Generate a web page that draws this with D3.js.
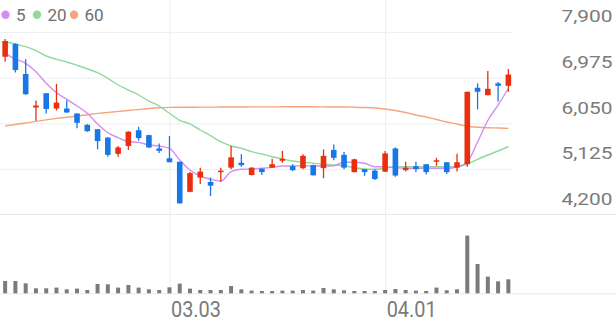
<!DOCTYPE html>
<html><head><meta charset="utf-8">
<script src="https://cdn.jsdelivr.net/npm/d3@7/dist/d3.min.js"></script>
<style>html,body{margin:0;padding:0;background:#fff;overflow:hidden}svg{display:block;font-family:Roboto,"Noto Sans",sans-serif}</style>
</head><body><svg id="c" width="616" height="321"></svg>
<script>
const dates = ["02.04","02.05","02.08","02.09","02.10","02.15","02.16","02.17","02.18","02.19","02.22","02.23","02.24","02.25","02.26","03.02",
"03.03","03.04","03.05","03.08","03.09","03.10","03.11","03.12","03.15","03.16","03.17","03.18","03.19","03.22","03.23","03.24","03.25","03.26","03.29","03.30","03.31",
"04.01","04.02","04.05","04.06","04.07","04.08","04.09","04.12","04.13","04.14","04.15","04.16","04.19"];
const open  = [7400,7660,7050,6370,6660,6350,6350,6250,6020,5930,5760,5430,5590,5910,5810,5540,5340,5270,4660,4950,4860,5060,5150,5250,5000,5130,5150,5290,5180,5140,5200,5140,5510,5410,5060,5120,5090,5070,5540,5100,5180,5220,5270,5260,5150,5220,6770,6620,6860,6810];
const high  = [7760,7670,7350,6510,6660,6850,6520,6250,6030,5930,5770,5590,5890,5980,5820,5640,5790,5270,5060,5150,4950,5150,5590,5420,5160,5130,5330,5490,5220,5420,5210,5520,5620,5470,5330,5120,5120,5490,5560,5270,5270,5220,5350,5260,5430,6690,6860,7110,6890,7150];
const low   = [7300,7080,6630,6100,6250,6310,6260,5950,5880,5520,5370,5370,5510,5700,5550,5450,5260,4425,4650,4820,4575,4865,5120,5170,4995,5000,5150,5250,5080,5120,4990,4935,5300,5120,5050,4985,4900,5060,4965,5070,5060,5010,5190,5020,5070,5170,6330,6620,6490,6690];
const close = [7720,7130,6640,6410,6340,6470,6270,6060,5890,5690,5410,5560,5880,5750,5560,5490,5260,4425,5040,5070,4785,5090,5360,5200,5150,5060,5220,5330,5100,5390,4995,5390,5350,5150,5320,5060,4920,5440,4990,5150,5120,5060,5300,5060,5260,6690,6690,6750,6810,7040];
const volume = [123000,123000,100000,50000,50000,57000,40000,47000,33000,93000,90000,57000,83000,57000,40000,33000,60000,97000,47000,33000,33000,33000,73000,40000,27000,23000,23000,27000,27000,33000,27000,53000,40000,30000,23000,23000,23000,33000,43000,33000,27000,23000,57000,30000,40000,577000,293000,167000,120000,140000];
const ma5  = [7470,7354,7267,7097,6861,6671,6537,6401,6253,6036,5859,5758,5677,5664,5610,5589,5543,5305,5103,4981,4914,4879,5068,5117,5123,5137,5157,5184,5184,5190,5184,5184,5190,5259,5259,5239,5169,5169,5149,5137,5137,5137,5137,5137,5169,5265,5670,6107,6421,6756];
const ma20 = [7705,7658,7604,7523,7415,7348,7293,7226,7157,7076,6963,6827,6725,6624,6502,6401,6253,6111,6036,5914,5798,5677,5589,5543,5474,5427,5372,5326,5285,5259,5239,5218,5204,5190,5149,5123,5117,5137,5169,5169,5169,5169,5169,5169,5169,5224,5320,5407,5488,5575];
const ma60 = [5995,6027,6056,6090,6121,6151,6172,6198,6224,6251,6271,6291,6310,6330,6350,6366,6374,6376,6376,6378,6378,6380,6380,6380,6383,6383,6383,6385,6385,6385,6385,6383,6380,6380,6376,6370,6360,6340,6310,6269,6218,6178,6127,6076,6036,5989,5971,5961,5955,5948];
const priceTicks = [4200,5125,6050,6975,7900];
const dateTicks = ["03.03","04.01"];
const maNames = ["5","20","60"];

const UP="#e8300f", DOWN="#1877e8", MACOL=["#d48ef2","#8fd99c","#f6a47c"], TXT="#7a7a7a", GRID="#efefef";
const svg = d3.select("#c");
const W = 513.5;
const x = d3.scaleBand().domain(d3.range(dates.length)).range([0, W]).padding(0);
const bw = x.bandwidth();
const cx = i => x(i) + bw/2;
const y = d3.scaleLinear().domain([4200,7900]).range([214.5,32.1]);
const yv = d3.scaleLinear().domain([0,600000]).range([293.3,233.3]);

// horizontal grid
const gGrid = svg.append("g").attr("transform",`translate(512,0)`)
  .call(d3.axisLeft(y).tickValues(priceTicks.slice(1)).tickSize(512).tickFormat(""));
gGrid.select(".domain").remove();
gGrid.selectAll("line").attr("stroke",GRID).attr("stroke-width",1);
// vertical grid + date labels
const tickIdx = dateTicks.map(d => dates.indexOf(d));
const gX = svg.append("g").attr("transform","translate(0,293.3)")
  .call(d3.axisBottom(d3.scaleLinear().domain([0,616]).range([0,616])).tickValues(tickIdx.map(cx)).tickSize(-293.3).tickFormat((d,i)=>dateTicks[i]));
gX.select(".domain").remove();
gX.selectAll("line").attr("stroke",GRID).attr("stroke-width",1);
gX.selectAll("text").attr("fill",TXT).attr("font-size",22).attr("text-anchor","start")
  .attr("dx",1).attr("y",23.7).attr("dy",0).attr("textLength",50).attr("lengthAdjust","spacingAndGlyphs")
  .attr("font-family","Roboto");
// panel separators
svg.append("line").attr("x1",0).attr("x2",616).attr("y1",y(4200)).attr("y2",y(4200)).attr("stroke","#e9e9e9");
svg.append("line").attr("x1",0).attr("x2",616).attr("y1",yv(0)+0.5).attr("y2",yv(0)+0.5).attr("stroke","#e9e9e9");
// price labels
const gY = svg.append("g").attr("transform","translate(612.5,0)")
  .call(d3.axisLeft(y).tickValues(priceTicks).tickSize(0).tickPadding(0).tickFormat(d3.format(",")));
gY.select(".domain").remove();
gY.selectAll("text").attr("fill",TXT).attr("font-size",17).attr("x",0).attr("dy",0).attr("y",-10.3)
  .attr("text-anchor","end").attr("textLength",51).attr("lengthAdjust","spacingAndGlyphs").attr("font-family","Roboto");

// MA lines
const line = d3.line().x((d,i)=>cx(i)).y(d=>y(d)).curve(d3.curveMonotoneX);
[ma60, ma20, ma5].forEach((s,k)=>{
  svg.append("path").datum(s).attr("d",line).attr("fill","none")
    .attr("stroke",MACOL[2-k]).attr("stroke-width",1.4);
});

// candles
const data = dates.map((d,i)=>({i,o:open[i],h:high[i],l:low[i],c:close[i],v:volume[i]}));
const cw = 5.6;
const g = svg.append("g");
g.selectAll(".wick").data(data).join("line")
  .attr("x1",d=>cx(d.i)).attr("x2",d=>cx(d.i))
  .attr("y1",d=>y(d.h)).attr("y2",d=>y(d.l))
  .attr("stroke",d=>d.c>=d.o?UP:DOWN).attr("stroke-width",1.3);
g.selectAll(".body").data(data).join("rect")
  .attr("x",d=>cx(d.i)-cw/2).attr("width",cw)
  .attr("y",d=>y(Math.max(d.o,d.c)))
  .attr("height",d=>Math.max(1.5,Math.abs(y(d.o)-y(d.c))))
  .attr("fill",d=>d.c>=d.o?UP:DOWN);

// volume
svg.append("g").selectAll("rect").data(data).join("rect")
  .attr("x",d=>cx(d.i)-2).attr("width",4)
  .attr("y",d=>yv(d.v)).attr("height",d=>yv(0)-yv(d.v))
  .attr("fill","#7b7b7b");

// legend
const lg = svg.append("g");
const lx = [5.5,37,74];
maNames.forEach((n,k)=>{
  lg.append("circle").attr("cx",lx[k]).attr("cy",14.8).attr("r",4.2).attr("fill",MACOL[k]);
  lg.append("text").attr("x",lx[k]+10.5).attr("y",20.8).attr("font-size",17).attr("fill","#6e6e6e").text(n);
});
</script></body></html>
